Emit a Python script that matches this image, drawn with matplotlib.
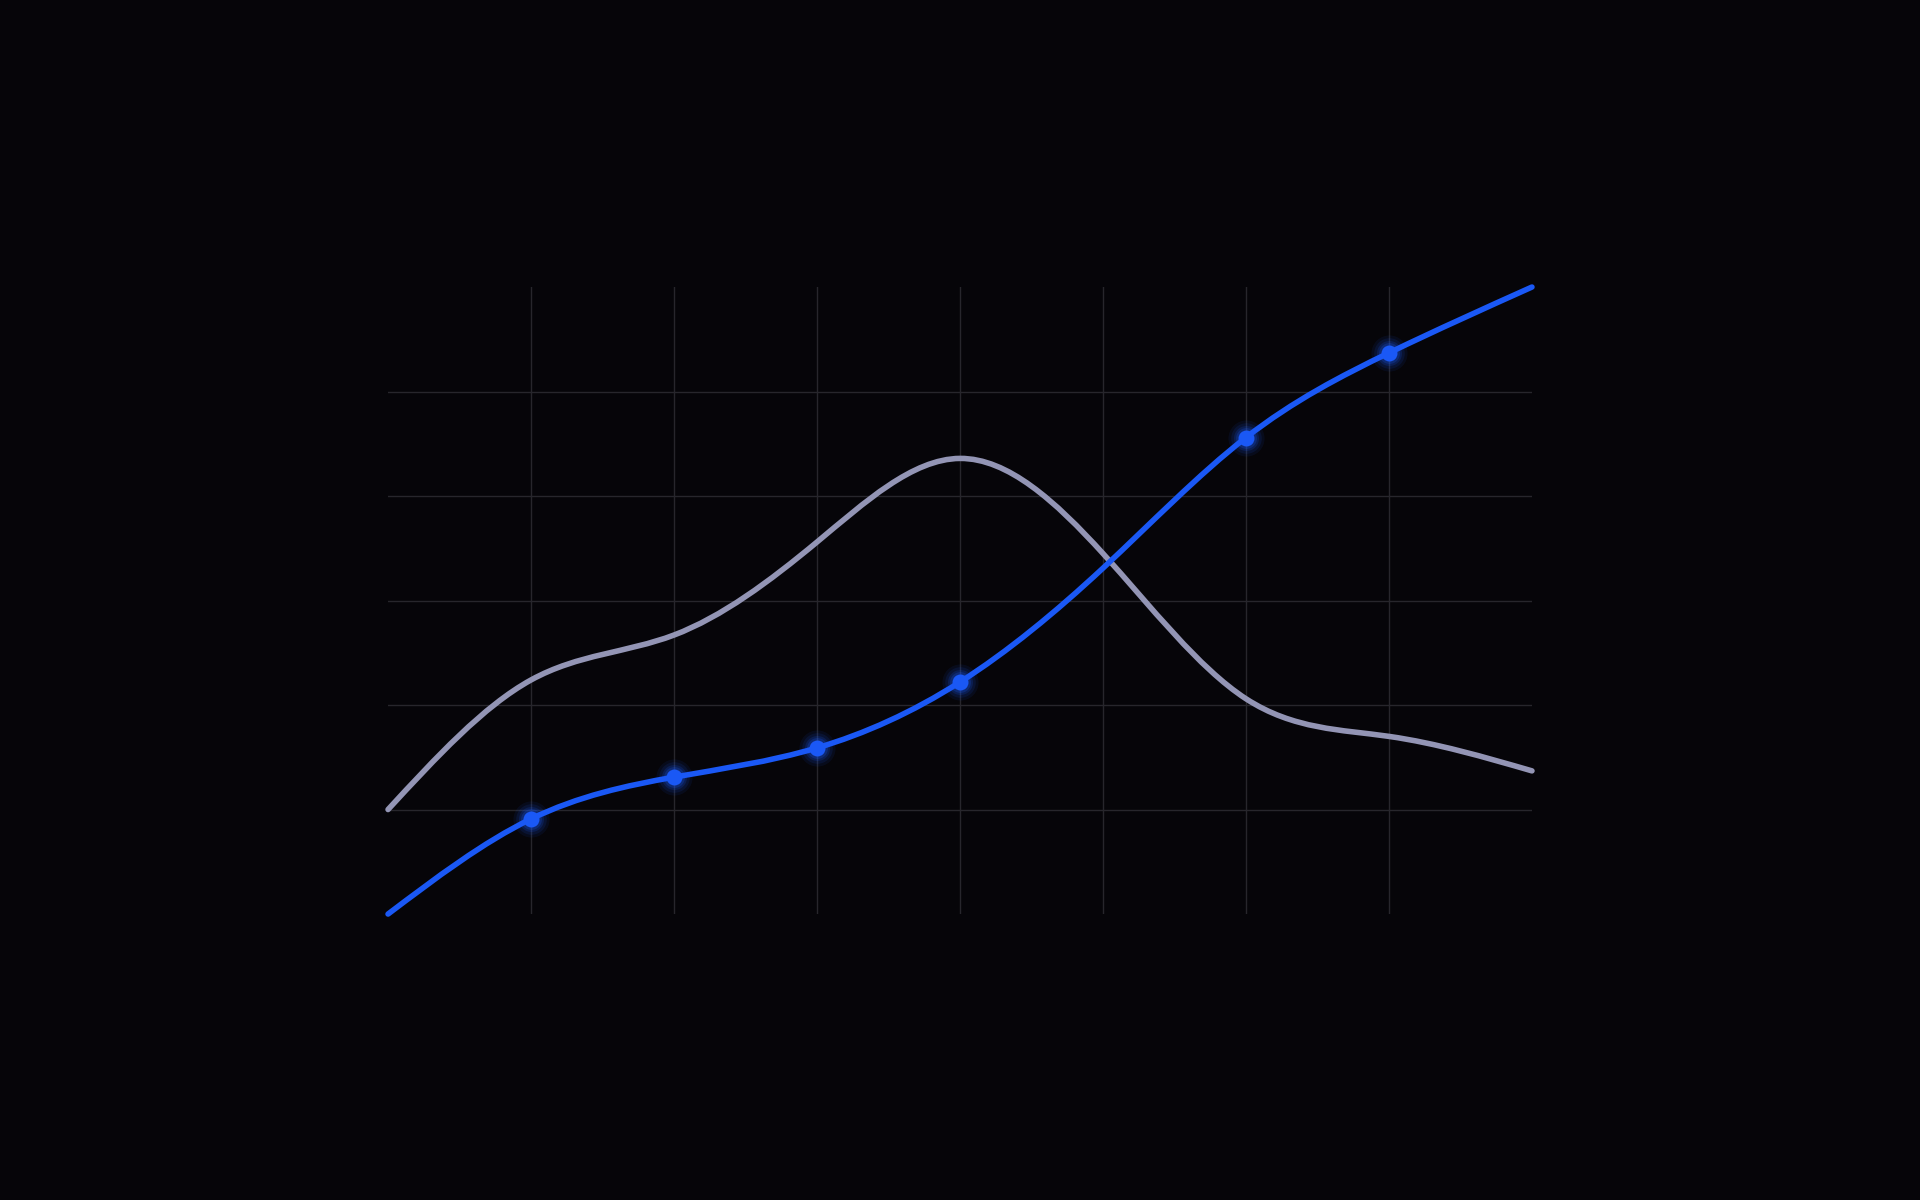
import numpy as np
import matplotlib
matplotlib.use("Agg")
import matplotlib.pyplot as plt
from matplotlib.path import Path
from matplotlib.patches import PathPatch

# Data
x_vals = [0, 1, 2, 3, 4, 5, 6, 7, 8]
blue_vals = [0, 9.1, 13.1, 15.9, 22.2, 33.1, 45.6, 53.7, 60]
gray_vals = [10, 22.4, 26.7, 35.6, 43.6, 34.5, 20.6, 17.0, 13.7]
blue_marker_idx = [1, 2, 3, 4, 6, 7]

BG = "#060509"
GRID = "#27262c"
BLUE = "#1a58f5"
GRAY = "#9395b5"


def natural_path(xs, ys):
    # natural cubic spline through the points, drawn as Bezier segments
    xs = np.asarray(xs, float)
    ys = np.asarray(ys, float)
    n = len(xs)
    h = np.diff(xs)
    A = np.zeros((n, n))
    b = np.zeros(n)
    A[0, 0], A[0, 1] = 2 / h[0], 1 / h[0]
    b[0] = 3 * (ys[1] - ys[0]) / h[0] ** 2
    for i in range(1, n - 1):
        A[i, i - 1] = 1 / h[i - 1]
        A[i, i] = 2 / h[i - 1] + 2 / h[i]
        A[i, i + 1] = 1 / h[i]
        b[i] = 3 * ((ys[i] - ys[i - 1]) / h[i - 1] ** 2 + (ys[i + 1] - ys[i]) / h[i] ** 2)
    A[-1, -2], A[-1, -1] = 1 / h[-1], 2 / h[-1]
    b[-1] = 3 * (ys[-1] - ys[-2]) / h[-1] ** 2
    m = np.linalg.solve(A, b)
    verts = [(xs[0], ys[0])]
    codes = [Path.MOVETO]
    for i in range(n - 1):
        dx = h[i] / 3
        verts += [(xs[i] + dx, ys[i] + dx * m[i]),
                  (xs[i + 1] - dx, ys[i + 1] - dx * m[i + 1]),
                  (xs[i + 1], ys[i + 1])]
        codes += [Path.CURVE4] * 3
    return Path(verts, codes)


fig = plt.figure(figsize=(19.2, 12), dpi=100, facecolor=BG)
ax = fig.add_axes([0.2021, 0.2383, 0.5958, 0.5225])
ax.set_facecolor(BG)
ax.set_xlim(0, 8)
ax.set_ylim(0, 60)
for s in ax.spines.values():
    s.set_visible(False)
ax.set_xticks([])
ax.set_yticks([])

# grid
for gx in range(1, 8):
    ax.axvline(gx, color=GRID, lw=1.0, zorder=1)
for gy in range(10, 60, 10):
    ax.axhline(gy, color=GRID, lw=1.0, zorder=1)

# lines
ax.add_patch(PathPatch(natural_path(x_vals, gray_vals), fill=False, edgecolor=GRAY,
                       lw=4.0, capstyle="round", joinstyle="round", zorder=3, clip_on=False))
ax.add_patch(PathPatch(natural_path(x_vals, blue_vals), fill=False, edgecolor=BLUE,
                       lw=4.0, capstyle="round", joinstyle="round", zorder=4, clip_on=False))

# markers with glow
mx = [x_vals[i] for i in blue_marker_idx]
my = [blue_vals[i] for i in blue_marker_idx]
for size, alpha in [(26, 0.08), (22, 0.11), (18, 0.16), (15, 0.22)]:
    ax.plot(mx, my, "o", ms=size, color=BLUE, alpha=alpha, mec="none", zorder=5)
ax.plot(mx, my, "o", ms=11.5, color=BLUE, mec="none", zorder=6)

fig.savefig("out.png", dpi=100, facecolor=BG)
